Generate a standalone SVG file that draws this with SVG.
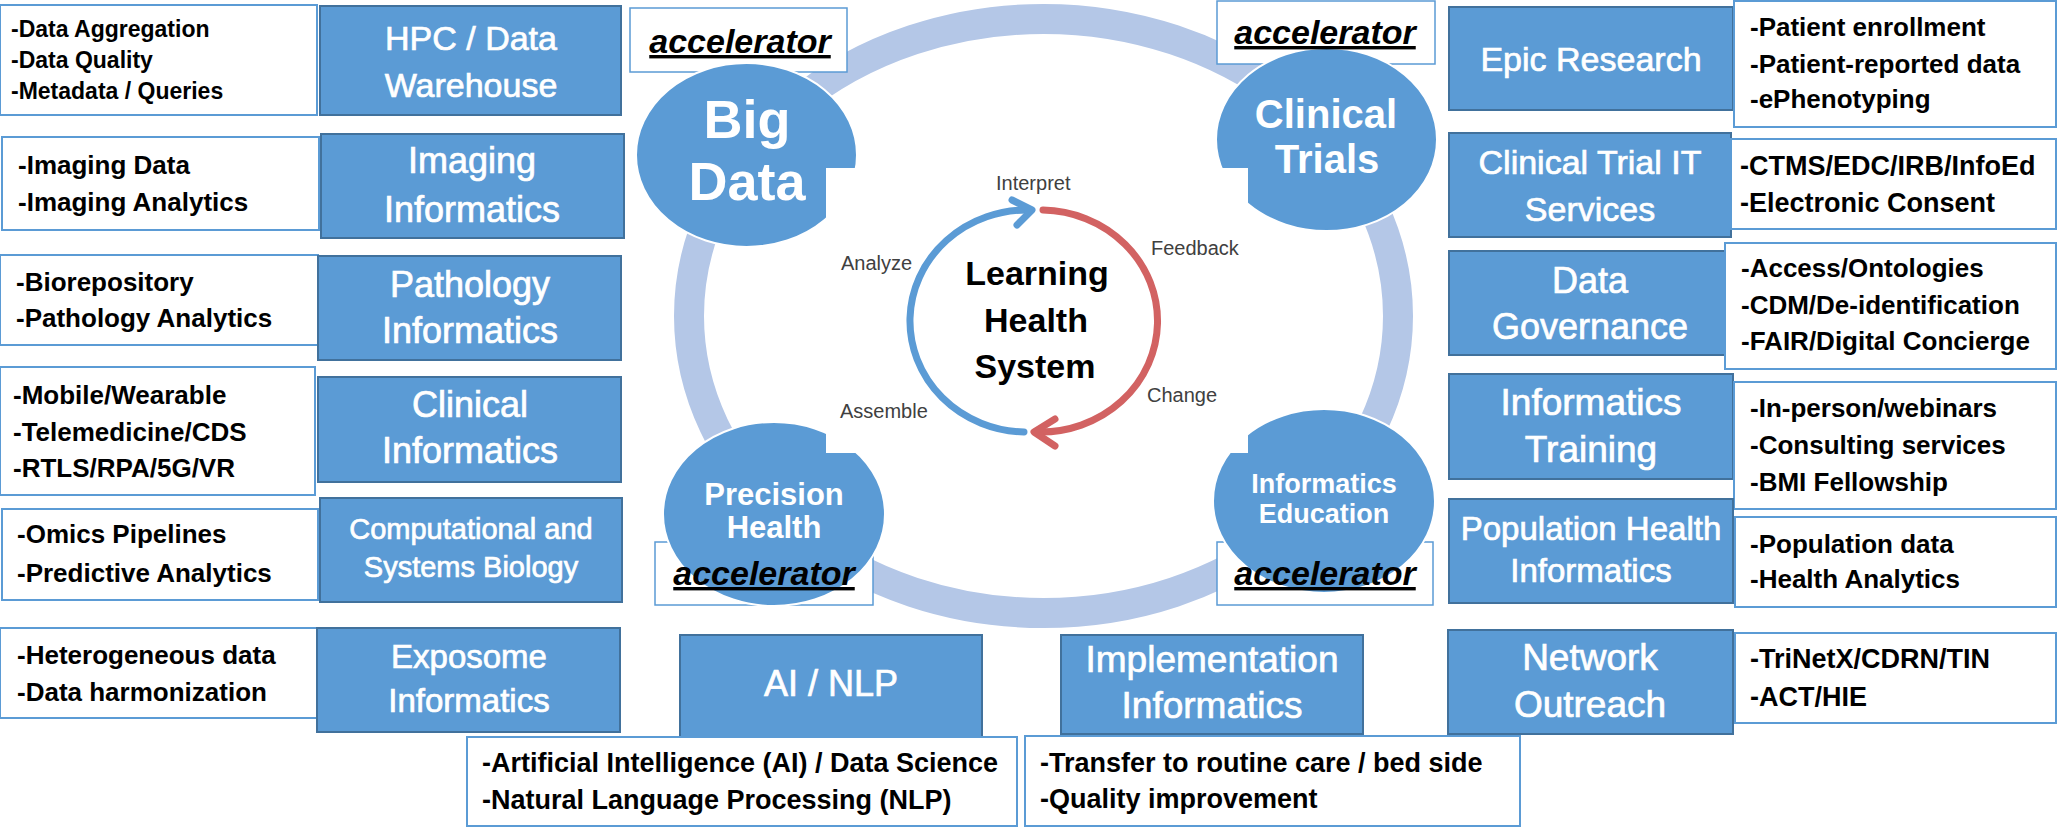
<svg xmlns="http://www.w3.org/2000/svg" width="2057" height="828" viewBox="0 0 2057 828">
<style>
text{font-family:"Liberation Sans",Arial,sans-serif}
.tb{fill:#fff;stroke:#5b9bd5;stroke-width:2}
.bb{fill:#5b9bd5;stroke:#41719c;stroke-width:2}
.lst{font-weight:bold;fill:#000}
.lbl{fill:#fff;stroke:#fff;stroke-width:0.7;text-anchor:middle}
.acb{fill:#fff;stroke:#5b9bd5;stroke-width:1.5}
.acc{font-weight:bold;font-style:italic;text-decoration:underline;font-size:34px;text-anchor:middle;fill:#000}
.circ{fill:#5b9bd5;stroke:#fff;stroke-width:2}
.ctxt{fill:#fff;font-weight:bold;text-anchor:middle}
.lhs{fill:#404040;font-size:20px}
.lhst{fill:#000;font-weight:bold;font-size:34px;text-anchor:middle}
</style>
<rect width="2057" height="828" fill="#fff"/>
<g id="ring"><ellipse cx="1043.5" cy="316" rx="354.5" ry="297" fill="none" stroke="#b4c7e7" stroke-width="30"/></g>

<!-- Left column -->
<g id="hpc">
<rect class="tb" x="0" y="5" width="317" height="110"/>
<text class="lst" font-size="23"><tspan x="11" y="37">-Data Aggregation</tspan><tspan x="11" y="68">-Data Quality</tspan><tspan x="11" y="99">-Metadata / Queries</tspan></text>
<rect class="bb" x="320" y="6" width="301" height="109"/>
<text class="lbl" font-size="34"><tspan x="471" y="50">HPC / Data</tspan><tspan x="471" y="97">Warehouse</tspan></text>
</g>
<g id="imaging">
<rect class="tb" x="2" y="137" width="317" height="93"/>
<text class="lst" font-size="26"><tspan x="18" y="174">-Imaging Data</tspan><tspan x="18" y="211">-Imaging Analytics</tspan></text>
<rect class="bb" x="321" y="134" width="303" height="104"/>
<text class="lbl" font-size="36"><tspan x="472" y="173">Imaging</tspan><tspan x="472" y="222">Informatics</tspan></text>
</g>
<g id="pathology">
<rect class="tb" x="0" y="255" width="318" height="90"/>
<text class="lst" font-size="26"><tspan x="16" y="291">-Biorepository</tspan><tspan x="16" y="327">-Pathology Analytics</tspan></text>
<rect class="bb" x="318" y="256" width="303" height="104"/>
<text class="lbl" font-size="36"><tspan x="470" y="297">Pathology</tspan><tspan x="470" y="343">Informatics</tspan></text>
</g>
<g id="clinical-informatics">
<rect class="tb" x="0" y="367" width="315" height="128"/>
<text class="lst" font-size="26"><tspan x="13" y="404">-Mobile/Wearable</tspan><tspan x="13" y="441">-Telemedicine/CDS</tspan><tspan x="13" y="477">-RTLS/RPA/5G/VR</tspan></text>
<rect class="bb" x="318" y="377" width="303" height="105"/>
<text class="lbl" font-size="36"><tspan x="470" y="417">Clinical</tspan><tspan x="470" y="463">Informatics</tspan></text>
</g>
<g id="computational">
<rect class="tb" x="2" y="509" width="316" height="91"/>
<text class="lst" font-size="26"><tspan x="17" y="543">-Omics Pipelines</tspan><tspan x="17" y="582">-Predictive Analytics</tspan></text>
<rect class="bb" x="320" y="498" width="302" height="104"/>
<text class="lbl" font-size="29"><tspan x="471" y="539">Computational and</tspan><tspan x="471" y="577">Systems Biology</tspan></text>
</g>
<g id="exposome">
<rect class="tb" x="0" y="628" width="318" height="90"/>
<text class="lst" font-size="26"><tspan x="17" y="664">-Heterogeneous data</tspan><tspan x="17" y="701">-Data harmonization</tspan></text>
<rect class="bb" x="317" y="628" width="303" height="104"/>
<text class="lbl" font-size="33"><tspan x="469" y="668">Exposome</tspan><tspan x="469" y="712">Informatics</tspan></text>
</g>

<!-- Bottom -->
<g id="ai-nlp">
<rect class="bb" x="680" y="635" width="302" height="102"/>
<text class="lbl" font-size="36" x="831" y="696">AI / NLP</text>
<rect class="tb" x="467" y="737" width="550" height="89"/>
<text class="lst" font-size="27"><tspan x="482" y="772">-Artificial Intelligence (AI) / Data Science</tspan><tspan x="482" y="809">-Natural Language Processing (NLP)</tspan></text>
</g>
<g id="implementation">
<rect class="bb" x="1061" y="635" width="302" height="99"/>
<text class="lbl" font-size="37"><tspan x="1212" y="672">Implementation</tspan><tspan x="1212" y="718">Informatics</tspan></text>
<rect class="tb" x="1025" y="736" width="495" height="90"/>
<text class="lst" font-size="27"><tspan x="1040" y="772">-Transfer to routine care / bed side</tspan><tspan x="1040" y="808">-Quality improvement</tspan></text>
</g>

<!-- Right column -->
<g id="epic">
<rect class="bb" x="1449" y="7" width="284" height="103"/>
<text class="lbl" font-size="34" x="1591" y="71">Epic Research</text>
<rect class="tb" x="1734" y="1" width="322" height="126"/>
<text class="lst" font-size="26"><tspan x="1750" y="36">-Patient enrollment</tspan><tspan x="1750" y="73">-Patient-reported data</tspan><tspan x="1750" y="108">-ePhenotyping</tspan></text>
</g>
<g id="ct-it">
<rect class="bb" x="1449" y="133" width="282" height="104"/>
<text class="lbl" font-size="34"><tspan x="1590" y="174">Clinical Trial IT</tspan><tspan x="1590" y="221">Services</tspan></text>
<rect class="tb" x="1731" y="139" width="325" height="90"/>
<text class="lst" font-size="27"><tspan x="1740" y="175">-CTMS/EDC/IRB/InfoEd</tspan><tspan x="1740" y="212">-Electronic Consent</tspan></text>
</g>
<g id="governance">
<rect class="bb" x="1449" y="251" width="282" height="104"/>
<text class="lbl" font-size="36"><tspan x="1590" y="293">Data</tspan><tspan x="1590" y="339">Governance</tspan></text>
<rect class="tb" x="1725" y="243" width="331" height="126"/>
<text class="lst" font-size="26"><tspan x="1741" y="277">-Access/Ontologies</tspan><tspan x="1741" y="314">-CDM/De-identification</tspan><tspan x="1741" y="350">-FAIR/Digital Concierge</tspan></text>
</g>
<g id="training">
<rect class="bb" x="1449" y="374" width="284" height="105"/>
<text class="lbl" font-size="37"><tspan x="1591" y="415">Informatics</tspan><tspan x="1591" y="462">Training</tspan></text>
<rect class="tb" x="1734" y="382" width="322" height="127"/>
<text class="lst" font-size="26"><tspan x="1750" y="417">-In-person/webinars</tspan><tspan x="1750" y="454">-Consulting services</tspan><tspan x="1750" y="491">-BMI Fellowship</tspan></text>
</g>
<g id="population">
<rect class="bb" x="1449" y="499" width="284" height="104"/>
<text class="lbl" font-size="33"><tspan x="1591" y="540">Population Health</tspan><tspan x="1591" y="582">Informatics</tspan></text>
<rect class="tb" x="1735" y="517" width="321" height="90"/>
<text class="lst" font-size="26"><tspan x="1750" y="553">-Population data</tspan><tspan x="1750" y="588">-Health Analytics</tspan></text>
</g>
<g id="network">
<rect class="bb" x="1448" y="630" width="285" height="104"/>
<text class="lbl" font-size="37"><tspan x="1590" y="670">Network</tspan><tspan x="1590" y="717">Outreach</tspan></text>
<rect class="tb" x="1735" y="633" width="321" height="90"/>
<text class="lst" font-size="27"><tspan x="1750" y="668">-TriNetX/CDRN/TIN</tspan><tspan x="1750" y="706">-ACT/HIE</tspan></text>
</g>

<!-- accelerator boxes -->
<rect class="acb" x="630" y="8" width="217" height="64"/>
<rect class="acb" x="1217" y="1" width="218" height="63"/>
<rect class="acb" x="655" y="542" width="218" height="63"/>
<rect class="acb" x="1217" y="542" width="216" height="63"/>

<!-- circles -->
<g id="big-data"><ellipse class="circ" cx="746.5" cy="155" rx="110.5" ry="92"/></g>
<g id="clinical-trials"><ellipse class="circ" cx="1326.5" cy="139.5" rx="110.5" ry="91.5"/></g>
<g id="precision-health"><ellipse class="circ" cx="774" cy="514" rx="111" ry="92"/></g>
<g id="informatics-education"><ellipse class="circ" cx="1324" cy="501" rx="111" ry="92"/></g>

<!-- Learning health system -->
<g id="lhs">
<rect x="826" y="168" width="422" height="285" fill="#fff"/>
<text class="lhst"><tspan x="1037" y="285">Learning</tspan><tspan x="1036" y="332">Health</tspan><tspan x="1035" y="378">System</tspan></text>
<text class="lhs" x="996" y="190">Interpret</text>
<text class="lhs" x="841" y="270">Analyze</text>
<text class="lhs" x="1151" y="255">Feedback</text>
<text class="lhs" x="1147" y="402">Change</text>
<text class="lhs" x="840" y="418">Assemble</text>
</g>
<g id="connectors" fill="none" stroke-width="7" stroke-linecap="round" stroke-linejoin="round">
<path d="M1024 432 A117 111 0 0 1 1030 210" stroke="#5b9bd5"/>
<polyline points="1012,200 1032,210 1017,225" stroke="#5b9bd5"/>
<path d="M1043 210 A117 111 0 0 1 1038 432" stroke="#d26262"/>
<polyline points="1055,419 1034,432 1055,446" stroke="#d26262"/>
</g>

<!-- circle labels -->
<text class="ctxt" font-size="54"><tspan x="747" y="138">Big</tspan><tspan x="747" y="200">Data</tspan></text>
<text class="ctxt" font-size="40"><tspan x="1326" y="128">Clinical</tspan><tspan x="1327" y="173">Trials</tspan></text>
<text class="ctxt" font-size="31"><tspan x="774" y="505">Precision</tspan><tspan x="774" y="538">Health</tspan></text>
<text class="ctxt" font-size="27"><tspan x="1324" y="493">Informatics</tspan><tspan x="1324" y="523">Education</tspan></text>

<!-- accelerator labels -->
<text class="acc" x="740" y="53">accelerator</text>
<text class="acc" x="1325" y="44">accelerator</text>
<text class="acc" x="764" y="585">accelerator</text>
<text class="acc" x="1325" y="585">accelerator</text>
</svg>
